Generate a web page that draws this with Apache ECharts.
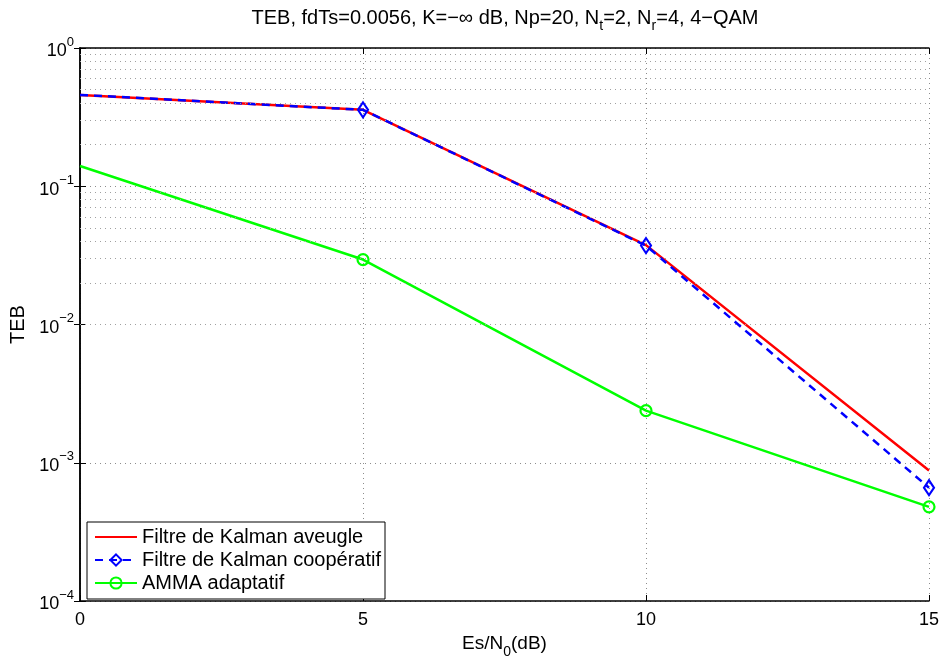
<!DOCTYPE html>
<html><head><meta charset="utf-8">
<script src="https://cdn.jsdelivr.net/npm/echarts@6/dist/echarts.min.js"></script>
<style>html,body{margin:0;padding:0;background:#fff}#c{width:943px;height:664px}</style>
</head><body><div id="c"></div>
<script>
const snr = [0, 5, 10, 15];
const kalmanAveugle = [0.458, 0.357, 0.0375, 0.00088];
const kalmanCoop = [0.458, 0.357, 0.0372, 0.00066];
const ammaAdaptatif = [0.14, 0.0295, 0.00238, 0.00048];
const seriesNames = ['Filtre de Kalman aveugle', 'Filtre de Kalman coopératif', 'AMMA adaptatif'];
const minorGrid = [];
[1e-4, 1e-3, 1e-2, 1e-1].forEach(d => { for (let k = 2; k <= 9; k++) minorGrid.push(+(d * k).toPrecision(3)); });

const FONT = 'Liberation Sans';
const FS = 18;
const pts = (ys, hideFirst) => snr.map((x, i) => (hideFirst && i === 0) ? { value: [x, ys[i]], symbol: 'none' } : [x, ys[i]]);
const expLabel = v => { const e = Math.round(Math.log10(v)); return '{b|10}{sup|' + (e < 0 ? '−' + (-e) : e) + '}'; };
const richSup = { b: { fontSize: FS, fontFamily: FONT, color: '#000', verticalAlign: 'bottom' }, sup: { fontSize: 13, fontFamily: FONT, color: '#000', padding: [0, 0, 12, 0], verticalAlign: 'bottom' } };
const mkSub = fs => ({ b: { fontSize: fs, fontFamily: FONT, color: '#000', fontWeight: 'normal', verticalAlign: 'top' }, sub: { fontSize: 14, fontFamily: FONT, color: '#000', fontWeight: 'normal', padding: [11, 0, 0, 0], verticalAlign: 'top' } });
const dotted = { color: '#8c8c8c', type: [1, 4], width: 1 };
const hollow = c => ({ color: 'rgba(255,255,255,0)', borderColor: c, borderWidth: 2.2 });

const chart = echarts.init(document.getElementById('c'), null, { renderer: 'canvas' });
chart.setOption({
  animation: false,
  backgroundColor: '#fff',
  textStyle: { fontFamily: FONT },
  title: {
    text: '{b|TEB, fdTs=0.0056, K=−∞ dB, Np=20, N}{sub|t}{b|=2, N}{sub|r}{b|=4, 4−QAM}',
    left: 500, top: 3, textAlign: 'center',
    textStyle: { fontWeight: 'normal', rich: mkSub(20) }
  },
  grid: { left: 79, right: 14, top: 48, bottom: 62 },
  xAxis: [{
    type: 'value', min: 0, max: 15, interval: 5,
    name: '{b|Es/N}{sub|0}{b|(dB)}', nameLocation: 'middle', nameGap: 33,
    nameTextStyle: { rich: mkSub(19) },
    axisLine: { lineStyle: { color: '#000', width: 1.5 } },
    axisTick: { inside: true, length: 6, lineStyle: { color: '#000' } },
    axisLabel: { color: '#000', fontSize: FS, fontFamily: FONT, margin: 10 },
    splitLine: { show: true, lineStyle: dotted }
  }, {
    type: 'value', min: 0, max: 15, interval: 5, position: 'top',
    axisLine: { lineStyle: { color: '#000', width: 1.5 } },
    axisTick: { inside: true, length: 6, lineStyle: { color: '#000' } },
    axisLabel: { show: false }, splitLine: { show: false }
  }],
  yAxis: [{
    type: 'log', logBase: 10, min: 1e-4, max: 1, interval: 1,
    name: 'TEB', nameLocation: 'middle', nameGap: 52,
    nameTextStyle: { color: '#000', fontSize: 20, fontFamily: FONT },
    axisLine: { lineStyle: { color: '#000', width: 1.5 } },
    axisTick: { inside: true, length: 6, lineStyle: { color: '#000' } },
    axisLabel: { formatter: expLabel, rich: richSup, margin: 6 },
    splitLine: { show: true, lineStyle: dotted }
  }, {
    type: 'log', logBase: 10, min: 1e-4, max: 1, interval: 1, position: 'right',
    axisLine: { lineStyle: { color: '#000', width: 1.5 } },
    axisTick: { inside: true, length: 6, lineStyle: { color: '#000' } },
    axisLabel: { show: false }, splitLine: { show: false }
  }],
  legend: {
    orient: 'vertical', left: 87, top: 522,
    backgroundColor: '#fff', borderColor: '#000', borderWidth: 1, borderRadius: 0,
    padding: [5, 4, 6, 7], itemWidth: 42, itemHeight: 14, itemGap: 3,
    textStyle: { color: '#000', fontSize: 20, fontFamily: FONT },
    data: [
      { name: seriesNames[0], itemStyle: { opacity: 0 } },
      { name: seriesNames[1] },
      { name: seriesNames[2] }
    ]
  },
  series: [
    {
      name: 'minor-grid', type: 'line', data: [], silent: true,
      markLine: { silent: true, symbol: 'none', label: { show: false }, lineStyle: { color: '#a0a0a0', type: [1, 4], width: 1 },
        data: minorGrid.map(v => ({ yAxis: v })) }
    },
    {
      name: seriesNames[0], type: 'line', data: pts(kalmanAveugle, false), symbol: 'none',
      lineStyle: { color: '#ff0000', width: 2.5 }, itemStyle: { color: '#ff0000' }, z: 3
    },
    {
      name: seriesNames[1], type: 'line', data: pts(kalmanCoop, true),
      symbol: 'diamond', symbolSize: [10, 15], showAllSymbol: true,
      lineStyle: { color: '#0000ff', width: 2.5, type: [8, 6] },
      itemStyle: hollow('#0000ff'), z: 4
    },
    {
      name: seriesNames[2], type: 'line', data: pts(ammaAdaptatif, true),
      symbol: 'circle', symbolSize: 11, showAllSymbol: true,
      lineStyle: { color: '#00ff00', width: 2.5 },
      itemStyle: hollow('#00ff00'), z: 3
    }
  ]
});
</script></body></html>
